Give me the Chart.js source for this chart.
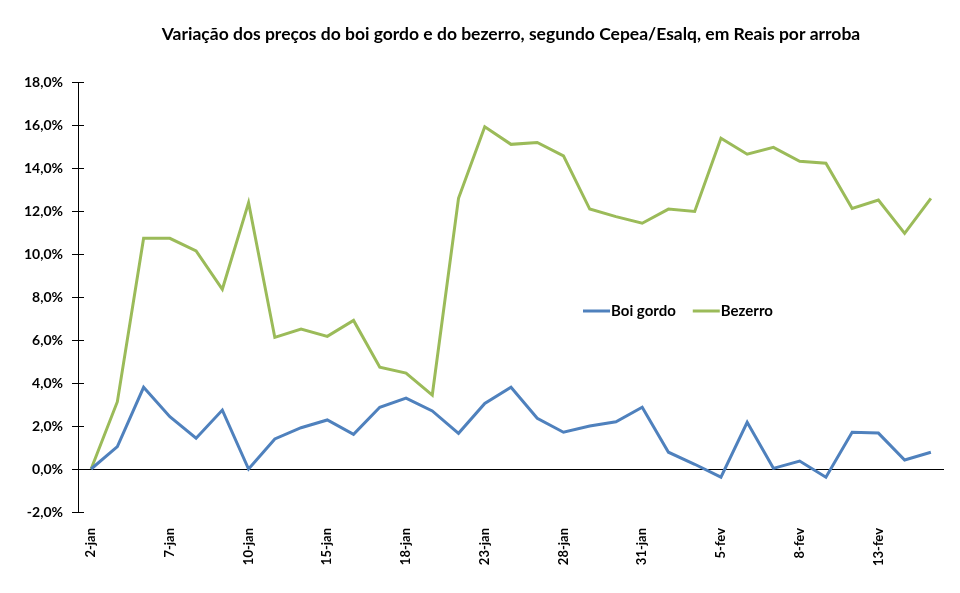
<!DOCTYPE html>
<html>
<head>
<meta charset="utf-8">
<script src="https://cdn.jsdelivr.net/npm/chart.js@4.4.1/dist/chart.umd.min.js"></script>
<style>
  html, body { margin: 0; padding: 0; background: #fff; }
  #wrap { width: 960px; height: 593px; }
</style>
</head>
<body>
<div id="wrap"><canvas id="chart"></canvas></div>
<script>
const datas = [
  "2-jan", "3-jan", "4-jan", "7-jan", "8-jan", "9-jan", "10-jan", "11-jan", "14-jan",
  "15-jan", "16-jan", "17-jan", "18-jan", "21-jan", "22-jan", "23-jan", "24-jan", "25-jan",
  "28-jan", "29-jan", "30-jan", "31-jan", "1-fev", "4-fev", "5-fev", "6-fev", "7-fev",
  "8-fev", "11-fev", "12-fev", "13-fev", "14-fev", "15-fev"
];
const boiGordo = [
  0.0, 1.04, 3.80, 2.43, 1.43, 2.74, 0.0, 1.40, 1.92, 2.28, 1.61, 2.87, 3.30,
  2.70, 1.66, 3.05, 3.80, 2.36, 1.71, 2.00, 2.20, 2.87, 0.78, 0.22, -0.38,
  2.17, 0.03, 0.37, -0.38, 1.71, 1.67, 0.42, 0.78
];
const bezerro = [
  0.0, 3.13, 10.73, 10.73, 10.14, 8.36, 12.39, 6.12, 6.51, 6.17, 6.91, 4.73, 4.46,
  3.44, 12.59, 15.92, 15.10, 15.19, 14.56, 12.09, 11.74, 11.43, 12.09, 11.98, 15.38,
  14.64, 14.96, 14.31, 14.22, 12.12, 12.51, 10.96, 12.59
];
const yTicks = { min: -2, max: 18, step: 2 };

const fonte = "Lato, 'Open Sans', sans-serif";

// legenda desenhada dentro da área do gráfico
const legendaInterna = {
  id: "legendaInterna",
  afterDatasetsDraw(chart) {
    const ctx = chart.ctx;
    const area = chart.chartArea;
    let x = area.left + 505;
    const y = area.top + 229;
    ctx.save();
    ctx.font = "bold 15px " + fonte;
    ctx.textBaseline = "middle";
    chart.data.datasets.forEach(ds => {
      ctx.strokeStyle = ds.borderColor;
      ctx.lineWidth = 3;
      ctx.beginPath();
      ctx.moveTo(x, y);
      ctx.lineTo(x + 27, y);
      ctx.stroke();
      ctx.fillStyle = "#000";
      ctx.fillText(ds.label, x + 28, y);
      x += 28 + ctx.measureText(ds.label).width + 17;
    });
    ctx.restore();
  }
};

// marcas do eixo y cruzando a linha do eixo
const marcasY = {
  id: "marcasY",
  afterDraw(chart) {
    const ctx = chart.ctx;
    const sy = chart.scales.y;
    const x0 = chart.chartArea.left;
    ctx.save();
    ctx.strokeStyle = "#000";
    ctx.lineWidth = 1;
    ctx.beginPath();
    sy.ticks.forEach(t => {
      const py = Math.round(sy.getPixelForValue(t.value)) + 0.5;
      ctx.moveTo(x0, py);
      ctx.lineTo(x0 + 6, py);
    });
    ctx.moveTo(x0 + 0.5, sy.top);
    ctx.lineTo(x0 + 0.5, sy.bottom);
    ctx.stroke();
    ctx.restore();
  }
};

new Chart(document.getElementById("chart"), {
  type: "line",
  data: {
    labels: datas,
    datasets: [
      { label: "Boi gordo", data: boiGordo, borderColor: "#4F81BD", borderWidth: 3, pointRadius: 0, tension: 0 },
      { label: "Bezerro", data: bezerro, borderColor: "#9BBB59", borderWidth: 3, pointRadius: 0, tension: 0 }
    ]
  },
  options: {
    responsive: true,
    maintainAspectRatio: false,
    animation: false,
    layout: { padding: { left: 0, right: 16, top: 0, bottom: 0 } },
    plugins: {
      legend: { display: false },
      tooltip: { enabled: false },
      title: {
        display: true,
        fullSize: false,
        text: "Variação dos preços do boi gordo e do bezerro, segundo Cepea/Esalq, em Reais por arroba",
        color: "#000",
        font: { family: fonte, size: 17.5, weight: "bold" },
        padding: { top: 24, bottom: 37 }
      }
    },
    scales: {
      x: {
        offset: true,
        grid: { display: false },
        border: { display: false },
        ticks: {
          autoSkip: false,
          maxRotation: 90,
          minRotation: 90,
          padding: 8,
          color: "#000",
          font: { family: fonte, size: 13, weight: "bold" },
          callback: function (v, i) { return i % 3 === 0 ? this.getLabelForValue(v) : ""; }
        },
        afterFit: s => { s.height = 81; }
      },
      y: {
        min: yTicks.min,
        max: yTicks.max,
        border: { display: false },
        grid: {
          drawTicks: true,
          tickLength: 6,
          tickColor: "#000",
          lineWidth: 1,
          color: c => (c.tick && c.tick.value === 0 ? "#000" : "rgba(0,0,0,0)")
        },
        ticks: {
          stepSize: yTicks.step,
          padding: 9,
          color: "#000",
          font: { family: fonte, size: 14, weight: "bold" },
          callback: v => v.toFixed(1).replace(".", ",") + "%"
        },
        afterFit: s => { s.width = 78; }
      }
    }
  },
  plugins: [legendaInterna, marcasY]
});
</script>
</body>
</html>
